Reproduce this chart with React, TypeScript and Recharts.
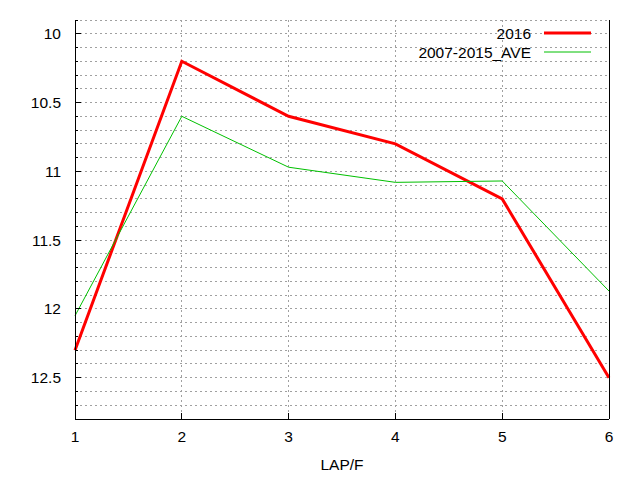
import React from 'react';
import { LineChart, Line, XAxis, YAxis, CartesianGrid, Legend, Label } from 'recharts';

// lap numbers and split times (seconds), y axis runs downwards
const LAPS = [1, 2, 3, 4, 5, 6];
const SPLIT_2016 = [12.3, 10.2, 10.6, 10.8, 11.2, 12.5];
const SPLIT_AVE = [12.05, 10.6, 10.97, 11.08, 11.07, 11.87];

const X_TICKS = [1, 2, 3, 4, 5, 6];
const Y_TICKS = [
  9.9, 10, 10.1, 10.2, 10.3, 10.4, 10.5, 10.6, 10.7, 10.8, 10.9, 11, 11.1, 11.2, 11.3,
  11.4, 11.5, 11.6, 11.7, 11.8, 11.9, 12, 12.1, 12.2, 12.3, 12.4, 12.5, 12.6, 12.7, 12.8,
];
const Y_LABELS = [10, 10.5, 11, 11.5, 12, 12.5];

const SERIES = [
  { key: 's2016', name: '2016', color: '#ff0000', width: 3 },
  { key: 'ave', name: '2007-2015_AVE', color: '#00c000', width: 1 },
];

const data = LAPS.map((lap, i) => ({ lap, s2016: SPLIT_2016[i], ave: SPLIT_AVE[i] }));

const FONT = '"Liberation Sans", Arial, sans-serif';
const FS = 15.5;

const isMajor = (v: number) => Y_LABELS.some((l) => Math.abs(l - v) < 1e-6);

const LeftTick = ({ x, y, payload }: any) => {
  const major = isMajor(payload.value);
  return (
    <g>
      <line x1={x} y1={y} x2={x + (major ? 6 : 3)} y2={y} stroke="#000" shapeRendering="crispEdges" />
      {major && (
        <text x={x - 14} y={y} dy={5.5} textAnchor="end" fontSize={FS} fontFamily={FONT} fill="#000">
          {payload.value}
        </text>
      )}
    </g>
  );
};

const RightTick = ({ x, y, payload }: any) => {
  const major = isMajor(payload.value);
  return <line x1={x} y1={y} x2={x - (major ? 6 : 3)} y2={y} stroke="#000" shapeRendering="crispEdges" />;
};

const BottomTick = ({ x, y, payload }: any) => (
  <g>
    <line x1={x} y1={y} x2={x} y2={y - 6} stroke="#000" shapeRendering="crispEdges" />
    <text x={x} y={y} dy={23} textAnchor="middle" fontSize={FS} fontFamily={FONT} fill="#000">
      {payload.value}
    </text>
  </g>
);

const TopTick = ({ x, y }: any) => (
  <line x1={x} y1={y} x2={x} y2={y + 6} stroke="#000" shapeRendering="crispEdges" />
);

// keep the legend in plot order, whatever order recharts hands the payload in
const LegendBox = ({ payload }: any) => {
  const items = SERIES.map((s) => ({ s, entry: (payload || []).find((p: any) => p.value === s.name) })).filter(
    (d) => d.entry,
  );
  return (
    <svg width={640} height={70} style={{ display: 'block' }}>
      {items.map(({ s, entry }, i) => {
        const cy = 33 + i * 19;
        return (
          <g key={s.key}>
            <text x={531} y={cy} dy={5.5} textAnchor="end" fontSize={FS} fontFamily={FONT} fill="#000">
              {entry.value}
            </text>
            <line x1={544} x2={591} y1={cy} y2={cy} stroke={entry.color} strokeWidth={s.width} />
          </g>
        );
      })}
    </svg>
  );
};

export default function App() {
  return (
    <div style={{ position: 'absolute', left: 0, top: 0, background: '#fff' }}>
      <LineChart
        width={640}
        height={480}
        data={data}
        margin={{ top: 20, right: 0, bottom: 0, left: 0 }}
        style={{ fontFamily: FONT }}
      >
        <CartesianGrid stroke="#a0a0a0" strokeDasharray="2 3" shapeRendering="crispEdges" />
        <XAxis
          dataKey="lap"
          type="number"
          domain={[1, 6]}
          ticks={X_TICKS}
          interval={0}
          height={61}
          tickSize={0}
          tickMargin={0}
          tickLine={false}
          tick={BottomTick}
          axisLine={{ stroke: '#000', shapeRendering: 'crispEdges' }}
        >
          <Label value="LAP/F" position="insideBottom" offset={10} fill="#000" fontSize={FS} />
        </XAxis>
        <XAxis
          xAxisId="top"
          orientation="top"
          dataKey="lap"
          type="number"
          domain={[1, 6]}
          ticks={X_TICKS}
          interval={0}
          height={0}
          tickSize={0}
          tickMargin={0}
          tickLine={false}
          tick={TopTick}
          axisLine={{ stroke: '#000', shapeRendering: 'crispEdges' }}
        />
        <YAxis
          type="number"
          domain={[9.9, 12.8]}
          reversed
          ticks={Y_TICKS}
          interval={0}
          width={75}
          tickSize={0}
          tickMargin={0}
          tickLine={false}
          tick={LeftTick}
          axisLine={{ stroke: '#000', shapeRendering: 'crispEdges' }}
        />
        <YAxis
          yAxisId="right"
          orientation="right"
          type="number"
          domain={[9.9, 12.8]}
          reversed
          ticks={Y_TICKS}
          interval={0}
          width={31}
          tickSize={0}
          tickMargin={0}
          tickLine={false}
          tick={RightTick}
          axisLine={{ stroke: '#000', shapeRendering: 'crispEdges' }}
        />
        <Legend
          content={LegendBox}
          layout="horizontal"
          verticalAlign="middle"
          wrapperStyle={{ top: 0, left: 0, width: 640, height: 70, pointerEvents: 'none' }}
        />
        {SERIES.map((s) => (
          <Line
            key={s.key}
            dataKey={s.key}
            name={s.name}
            stroke={s.color}
            strokeWidth={s.width}
            dot={false}
            activeDot={false}
            isAnimationActive={false}
            strokeLinejoin="miter"
          />
        ))}
      </LineChart>
    </div>
  );
}
